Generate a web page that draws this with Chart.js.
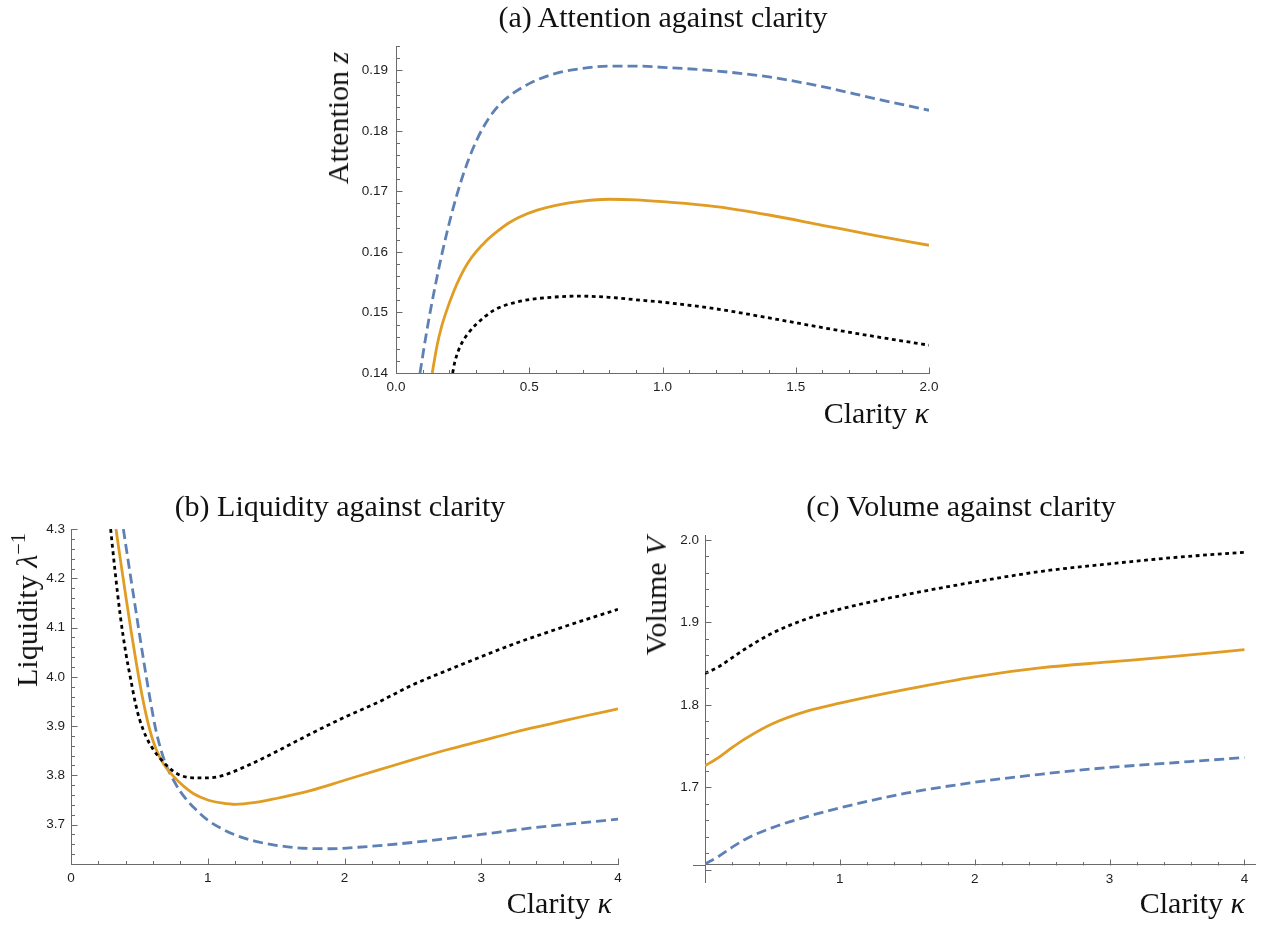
<!DOCTYPE html>
<html>
<head>
<meta charset="utf-8">
<script src="https://cdn.jsdelivr.net/npm/chart.js@4.4.1/dist/chart.umd.min.js"></script>
<style>
  html, body { margin: 0; padding: 0; background: #fff; }
  body { width: 1264px; height: 925px; position: relative; overflow: hidden; font-family: 'Liberation Serif', serif; color: #111; }
  .panel { position: absolute; }
  .txt { position: absolute; font-size: 30px; white-space: nowrap; line-height: 1; }
  .title { transform: translate(-50%, -50%); }
  .xlab { transform: translate(-100%, -50%); }
  .ylab { transform: translate(-50%, -50%) rotate(-90deg); }
  sup { font-size: 0.68em; vertical-align: 0.6em; line-height: 0; }
</style>
</head>
<body>

<div class="panel" style="left:300px;top:30px;width:660px;height:380px"><canvas id="chartA"></canvas></div>
<div class="panel" style="left:0px;top:515px;width:640px;height:400px"><canvas id="chartB"></canvas></div>
<div class="panel" style="left:640px;top:515px;width:624px;height:400px"><canvas id="chartC"></canvas></div>

<div class="txt title" style="left:663px;top:17px">(a) Attention against clarity</div>
<div class="txt xlab" style="left:929px;top:413px">Clarity <i>κ</i></div>
<div class="txt ylab" style="left:338px;top:118px">Attention <i>z</i></div>

<div class="txt title" style="left:340px;top:506px">(b) Liquidity against clarity</div>
<div class="txt xlab" style="left:612px;top:903px">Clarity <i>κ</i></div>
<div class="txt ylab" style="left:27px;top:610px">Liquidity <i>λ</i><sup>−1</sup></div>

<div class="txt title" style="left:961px;top:506px">(c) Volume against clarity</div>
<div class="txt xlab" style="left:1245px;top:903px">Clarity <i>κ</i></div>
<div class="txt ylab" style="left:656px;top:596px">Volume <i>V</i></div>

<script>
// (a) attention z vs clarity
const attnKappaDashed = [0.09, 0.11, 0.13, 0.15, 0.17, 0.19, 0.21, 0.25, 0.30, 0.35, 0.40, 0.50, 0.60, 0.70, 0.80, 0.90, 1.0, 1.2, 1.4, 1.6, 1.8, 2.0];
const attnDashed = [0.1400, 0.1455, 0.1505, 0.1550, 0.1592, 0.1630, 0.1665, 0.1725, 0.1782, 0.1822, 0.1848, 0.1878, 0.1895, 0.1903, 0.1907, 0.1907, 0.1905, 0.1899, 0.1889, 0.1873, 0.1853, 0.1834];
const attnKappaSolid = [0.136, 0.153, 0.17, 0.19, 0.215, 0.24, 0.27, 0.30, 0.34, 0.38, 0.42, 0.46, 0.53, 0.60, 0.70, 0.80, 0.90, 1.0, 1.2, 1.4, 1.6, 1.8, 2.0];
const attnSolid = [0.1400, 0.1443, 0.1475, 0.1503, 0.1533, 0.1558, 0.1582, 0.1600, 0.1619, 0.1634, 0.1647, 0.1657, 0.1669, 0.1677, 0.1684, 0.1687, 0.1686, 0.1683, 0.1675, 0.1661, 0.1644, 0.1627, 0.1611];
const attnKappaDotted = [0.2126, 0.22, 0.235, 0.25, 0.27, 0.30, 0.365, 0.46, 0.58, 0.69, 0.80, 0.90, 1.0, 1.2, 1.4, 1.6, 1.8, 2.0];
const attnDotted = [0.1400, 0.1417, 0.1438, 0.1452, 0.1465, 0.1480, 0.1503, 0.1518, 0.1525, 0.1527, 0.1525, 0.1521, 0.1517, 0.1506, 0.1491, 0.1475, 0.1460, 0.1446];
const attnXTicks = [0, 0.5, 1, 1.5, 2];
const attnYTicks = [0.14, 0.15, 0.16, 0.17, 0.18, 0.19];

// (b) liquidity 1/lambda vs clarity
const liqKappaDashed = [0.383, 0.42, 0.46, 0.50, 0.54, 0.58, 0.62, 0.66, 0.70, 0.75, 0.80, 0.85, 0.90, 1.0, 1.1, 1.2, 1.35, 1.5, 1.7, 1.9, 2.1, 2.4, 2.7, 3.0, 3.3, 3.6, 4.0];
const liqDashed = [4.300, 4.232, 4.160, 4.088, 4.018, 3.952, 3.893, 3.850, 3.818, 3.790, 3.767, 3.749, 3.734, 3.709, 3.692, 3.679, 3.666, 3.658, 3.652, 3.651, 3.654, 3.661, 3.670, 3.680, 3.691, 3.700, 3.711];
const liqKappaSolid = [0.329, 0.36, 0.40, 0.44, 0.48, 0.52, 0.56, 0.60, 0.65, 0.70, 0.75, 0.80, 0.85, 0.90, 1.0, 1.1, 1.2, 1.35, 1.5, 1.75, 2.0, 2.25, 2.5, 2.75, 3.0, 3.25, 3.5, 3.75, 4.0];
const liqSolid = [4.300, 4.240, 4.165, 4.092, 4.024, 3.962, 3.910, 3.870, 3.836, 3.814, 3.798, 3.784, 3.772, 3.762, 3.750, 3.744, 3.741, 3.745, 3.753, 3.769, 3.790, 3.811, 3.832, 3.852, 3.870, 3.888, 3.904, 3.920, 3.935];
const liqKappaDotted = [0.29, 0.32, 0.36, 0.40, 0.44, 0.47, 0.50, 0.55, 0.60, 0.65, 0.70, 0.75, 0.80, 0.90, 1.0, 1.1, 1.3, 1.5, 1.75, 2.0, 2.25, 2.5, 2.75, 3.0, 3.25, 3.5, 3.75, 4.0];
const liqDotted = [4.300, 4.220, 4.125, 4.050, 3.990, 3.948, 3.915, 3.878, 3.853, 3.835, 3.820, 3.808, 3.800, 3.795, 3.795, 3.799, 3.821, 3.848, 3.884, 3.918, 3.949, 3.984, 4.013, 4.041, 4.068, 4.092, 4.115, 4.137];
const liqXTicks = [0, 1, 2, 3, 4];
const liqYTicks = [3.7, 3.8, 3.9, 4.0, 4.1, 4.2, 4.3];

// (c) volume V vs clarity
const volKappa = [0, 0.1, 0.2, 0.3, 0.5, 0.75, 1, 1.5, 2, 2.5, 3, 3.5, 4];
const volDashed = [1.607, 1.616, 1.627, 1.637, 1.651, 1.664, 1.675, 1.693, 1.706, 1.716, 1.724, 1.730, 1.736];
const volSolid = [1.726, 1.736, 1.748, 1.759, 1.777, 1.792, 1.802, 1.819, 1.834, 1.845, 1.852, 1.859, 1.867];
const volDotted = [1.838, 1.846, 1.857, 1.868, 1.887, 1.904, 1.916, 1.934, 1.949, 1.962, 1.971, 1.979, 1.985];
const volXTicks = [1, 2, 3, 4];
const volYTicks = [1.7, 1.8, 1.9, 2.0];

const BLUE = '#5E81B5';
const ORANGE = '#E19C24';
const AXIS = '#6b6b6b';
const Y_AXIS_BOX = 50;

function pts(xs, ys) {
  return xs.map((x, i) => ({ x: x, y: ys[i] }));
}

function series(xs, ys, kind) {
  const ds = {
    data: pts(xs, ys),
    borderWidth: 2.8,
    pointRadius: 0,
    fill: false,
    cubicInterpolationMode: 'monotone',
  };
  if (kind === 'dashed') { ds.borderColor = BLUE; ds.borderDash = [10, 5]; ds.order = 3; }
  if (kind === 'solid') { ds.borderColor = ORANGE; ds.order = 2; }
  if (kind === 'dotted') { ds.borderColor = '#000'; ds.borderDash = [3.8, 3.6]; ds.order = 1; }
  return ds;
}

// Mathematica-style ticks pointing into the plot
const inwardTicks = {
  id: 'inwardTicks',
  afterDraw(chart, args, opts) {
    const { ctx, chartArea } = chart;
    const xs = chart.scales.x, ys = chart.scales.y;
    const x0 = Math.round(xs.getPixelForValue(opts.cross[0])) + 0.5;
    const y0 = Math.round(ys.getPixelForValue(opts.cross[1])) + 0.5;
    const isMajor = (v, m) => Math.abs(v / m - Math.round(v / m)) < 1e-6;
    ctx.save();
    ctx.strokeStyle = AXIS;
    ctx.lineWidth = 1;
    ctx.beginPath();
    if (opts.extendLeft) {
      ctx.moveTo(chartArea.left - opts.extendLeft, y0);
      ctx.lineTo(chartArea.left, y0);
    }
    const tx = opts.x;
    for (let i = 0; i <= tx.count; i++) {
      const v = tx.from + i * tx.step;
      const px = Math.round(xs.getPixelForValue(v)) + 0.5;
      const len = isMajor(v, tx.major) ? 6 : 3.5;
      ctx.moveTo(px, y0);
      ctx.lineTo(px, y0 - len);
    }
    const ty = opts.y;
    for (let i = 0; i <= ty.count; i++) {
      const v = ty.from + i * ty.step;
      const py = Math.round(ys.getPixelForValue(v)) + 0.5;
      const len = isMajor(v, ty.major) ? 6 : 3.5;
      ctx.moveTo(x0, py);
      ctx.lineTo(x0 + len, py);
    }
    ctx.stroke();
    ctx.restore();
  }
};

function makeChart(id, datasets, cfg) {
  const tickFont = { family: 'Liberation Sans', size: 13.5 };
  return new Chart(document.getElementById(id), {
    type: 'line',
    data: { datasets: datasets },
    plugins: [inwardTicks],
    options: {
      responsive: true,
      maintainAspectRatio: false,
      animation: false,
      layout: { padding: cfg.padding },
      plugins: {
        legend: { display: false },
        tooltip: { enabled: false },
        inwardTicks: cfg.ticks,
      },
      scales: {
        x: {
          type: 'linear',
          min: cfg.xmin, max: cfg.xmax,
          position: { y: cfg.ticks.cross[1] },
          grid: { display: false, drawTicks: false },
          border: { display: true, color: AXIS, width: 1 },
          afterBuildTicks: (s) => { s.ticks = cfg.xTicks.map(v => ({ value: v })); },
          ticks: { font: tickFont, color: '#1e1e1e', padding: 6, maxRotation: 0, autoSkip: false, callback: cfg.xFmt },
        },
        y: {
          type: 'linear',
          min: cfg.ymin, max: cfg.ymax,
          position: 'left',
          grid: { display: false, drawTicks: false },
          border: { display: true, color: AXIS, width: 1 },
          afterFit: (s) => { s.width = Y_AXIS_BOX; },
          afterBuildTicks: (s) => { s.ticks = cfg.yTicks.map(v => ({ value: v })); },
          ticks: { font: tickFont, color: '#1e1e1e', padding: cfg.yPad, autoSkip: false, callback: cfg.yFmt },
        }
      }
    }
  });
}

makeChart('chartA', [
  series(attnKappaDashed, attnDashed, 'dashed'),
  series(attnKappaSolid, attnSolid, 'solid'),
  series(attnKappaDotted, attnDotted, 'dotted'),
], {
  padding: { left: 96 - Y_AXIS_BOX, top: 13, right: 31, bottom: 37 },
  xmin: 0, xmax: 2, ymin: 0.14, ymax: 0.194, yPad: 8,
  xTicks: attnXTicks, yTicks: attnYTicks,
  xFmt: v => v.toFixed(1), yFmt: v => v.toFixed(2),
  ticks: { cross: [0, 0.14], x: { from: 0, step: 0.1, count: 20, major: 0.5 }, y: { from: 0.14, step: 0.002, count: 27, major: 0.01 } },
});

makeChart('chartB', [
  series(liqKappaDashed, liqDashed, 'dashed'),
  series(liqKappaSolid, liqSolid, 'solid'),
  series(liqKappaDotted, liqDotted, 'dotted'),
], {
  padding: { left: 71 - Y_AXIS_BOX, top: 11, right: 22, bottom: 51 },
  xmin: 0, xmax: 4, ymin: 3.62, ymax: 4.3, yPad: 6,
  xTicks: liqXTicks, yTicks: liqYTicks,
  xFmt: v => String(v), yFmt: v => v.toFixed(1),
  ticks: { cross: [0, 3.62], x: { from: 0, step: 0.2, count: 20, major: 1 }, y: { from: 3.62, step: 0.02, count: 34, major: 0.1 } },
});

makeChart('chartC', [
  series(volKappa, volDashed, 'dashed'),
  series(volKappa, volSolid, 'solid'),
  series(volKappa, volDotted, 'dotted'),
], {
  padding: { left: 65 - Y_AXIS_BOX, top: 20, right: 9, bottom: 33 },
  xmin: 0, xmax: 4.078, ymin: 1.585, ymax: 2.006, yPad: 6,
  xTicks: volXTicks, yTicks: volYTicks,
  xFmt: v => String(v), yFmt: v => v.toFixed(1),
  ticks: { cross: [0, 1.606], extendLeft: 12, x: { from: 0.2, step: 0.2, count: 19, major: 1 }, y: { from: 1.6, step: 0.02, count: 20, major: 0.1 } },
});
</script>
</body>
</html>
